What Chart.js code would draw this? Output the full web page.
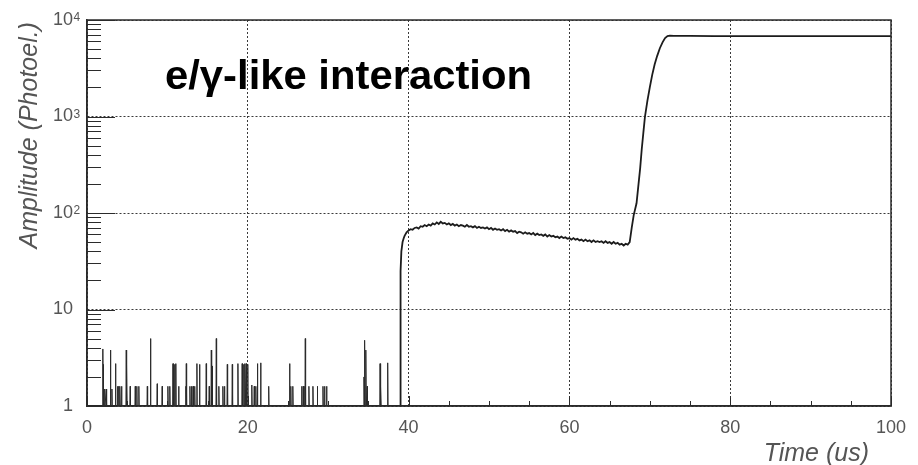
<!DOCTYPE html>
<html>
<head>
<meta charset="utf-8">
<script src="https://cdn.jsdelivr.net/npm/chart.js@4/dist/chart.umd.min.js"></script>
<style>
  html, body { margin: 0; padding: 0; background: #fff; }
  canvas { display: block; }
</style>
</head>
<body>
<canvas id="pulseChart" width="918" height="465"></canvas>
<script>
// noise spikes before the interaction (time in us, height in photoelectrons)
const spikeTimes = [1.97, 2.05, 2.2, 2.4, 2.92, 3.1, 3.55, 3.8, 3.95, 4.1, 4.3, 4.88, 4.95, 5.37, 6.0, 6.2, 6.45,
  7.5, 7.9, 8.73, 9.35, 10.06, 10.3, 10.7, 10.9, 11.05, 11.4, 12.3, 12.35, 12.8, 13.0, 13.2, 13.4, 13.67, 14.0,
  14.83, 15.2, 15.46, 15.55, 16.08, 16.4, 16.9, 17.1, 17.45, 18.07, 18.77, 19.3, 19.5, 19.65, 19.8, 20.0, 20.5,
  20.8, 21.0, 21.2, 21.6, 22.6, 25.2, 25.35, 25.6, 26.7, 26.9, 27.1, 27.15, 27.6, 28.1, 28.65, 29.35, 29.55, 29.8,
  34.45, 34.55, 34.7, 34.85, 36.45, 36.55, 37.4];
const spikeHeights = [3.9, 2.7, 1.5, 1.5, 3.8, 1.5, 2.75, 1.6, 1.6, 1.6, 1.6, 3.8, 2.7, 1.6, 1.6, 1.6, 1.6,
  1.6, 5.0, 1.7, 1.6, 1.6, 1.6, 2.75, 2.7, 2.75, 1.6, 1.6, 2.75, 1.6, 1.6, 1.6, 1.6, 2.75, 2.7,
  2.75, 1.6, 3.8, 2.6, 5.0, 1.6, 1.6, 1.6, 2.7, 2.7, 2.75, 2.75, 2.7, 2.75, 2.75, 2.7, 1.65,
  1.6, 1.6, 2.75, 2.8, 1.6, 2.75, 1.6, 1.6, 1.6, 1.6, 1.6, 5.0, 1.6, 1.6, 1.6, 1.6, 1.6, 1.6,
  2.0, 4.8, 3.8, 1.6, 2.75, 1.6, 2.8];

// leading edge of the pulse
const edgeTimes = [0, 38.95, 39.0, 39.1, 39.25, 39.4];
const edgeValues = [1, 1, 25, 40, 50, 55];

// slow component, sampled every 0.25 us from 39.5 us
const plateauStart = 39.5;
const plateauStep = 0.25;
const plateauValues = [58, 63, 66, 68, 67, 70, 71, 69, 73, 72, 75, 73, 76, 74, 78, 76, 80, 77, 81, 78,
  79, 76, 78, 75, 77, 74, 76, 73, 75, 74, 72, 75, 72, 73, 71, 73, 70, 72, 70, 71,
  69, 71, 68, 70, 67, 69, 67, 68, 66, 68, 65, 67, 64, 66, 64, 65, 62, 64, 63, 61,
  63, 61, 62, 60, 62, 59, 61, 59, 60, 58, 60, 57, 59, 57, 58, 56, 57, 55, 57, 55,
  56, 54, 55, 53, 55, 53, 54, 52, 53, 51, 53, 51, 52, 50, 52, 50, 51, 50, 51, 49,
  51, 49, 50, 48, 50, 48, 49, 47, 48, 46, 48, 47, 50];

// second rise and saturation
const riseTimes = [67.75, 68.0, 68.35, 68.6, 68.8, 69.0, 69.2, 69.4, 69.7, 70.0, 70.3, 70.6, 70.9, 71.25,
  71.6, 71.9, 72.2, 72.5, 73, 75, 78, 80, 85, 90, 95, 100];
const riseValues = [70, 95, 126, 200, 290, 460, 680, 1000, 1450, 2000, 2700, 3450, 4200, 5100,
  5900, 6500, 6800, 6900, 6850, 6850, 6800, 6820, 6800, 6810, 6800, 6800];

const yTickValues = [1, 10, 100, 1000, 10000];
const yTickBases = ['1', '10', '10', '10', '10'];
const yTickExponents = ['', '', '2', '3', '4'];
const yMinorMultipliers = [2, 3, 4, 5, 6, 7, 8, 9];
const xMinorStep = 5;

const FONT = "'Liberation Sans', Arial, Helvetica, sans-serif";
const LABEL_GREY = '#555';

let spikePoints = [];
spikeTimes.forEach(function(t, i) {
  spikePoints.push({x: t - 0.04, y: 1}, {x: t, y: spikeHeights[i]}, {x: t + 0.04, y: 1});
});

let pulsePoints = [];
edgeTimes.forEach(function(t, i) { pulsePoints.push({x: t, y: edgeValues[i]}); });
plateauValues.forEach(function(v, i) { pulsePoints.push({x: plateauStart + i * plateauStep, y: v}); });
riseTimes.forEach(function(t, i) { pulsePoints.push({x: t, y: riseValues[i]}); });

const frame = {
  id: 'frame',
  afterDatasetsDraw(chart) {
    const {ctx, chartArea: a, scales: {x, y}} = chart;
    ctx.save();
    ctx.strokeStyle = '#2b2b2b';
    ctx.lineWidth = 1;
    ctx.beginPath();
    yTickValues.forEach(function(d) {
      yMinorMultipliers.forEach(function(m) {
        const v = d * m;
        if (v >= 10000) return;
        const py = Math.round(y.getPixelForValue(v)) + 0.5;
        ctx.moveTo(a.left, py); ctx.lineTo(a.left + 14, py);
      });
      const py = Math.round(y.getPixelForValue(d)) + 0.5;
      ctx.moveTo(a.left, py); ctx.lineTo(a.left + 28, py);
    });
    for (let t = 0; t <= 100; t += xMinorStep) {
      const px = Math.round(x.getPixelForValue(t)) + 0.5;
      ctx.moveTo(px, a.bottom); ctx.lineTo(px, a.bottom - (t % 20 === 0 ? 10 : 5));
    }
    ctx.stroke();
    ctx.lineWidth = 1.5;
    ctx.strokeRect(a.left, a.top, a.right - a.left, a.bottom - a.top);
    ctx.restore();
  },
  afterDraw(chart) {
    const {ctx, scales: {y}} = chart;
    ctx.save();
    ctx.fillStyle = LABEL_GREY;
    yTickValues.forEach(function(v, i) {
      const py = y.getPixelForValue(v);
      ctx.font = '18px ' + FONT;
      ctx.textAlign = 'right';
      ctx.textBaseline = 'middle';
      ctx.fillText(yTickBases[i], 73, py);
      if (yTickExponents[i]) {
        ctx.font = '12px ' + FONT;
        ctx.textAlign = 'left';
        ctx.textBaseline = 'alphabetic';
        ctx.fillText(yTickExponents[i], 73.5, py + 1);
      }
    });
    // axis titles
    ctx.font = 'italic 25px ' + FONT;
    ctx.textAlign = 'right';
    ctx.textBaseline = 'alphabetic';
    ctx.fillText('Time (us)', 869, 461);
    ctx.save();
    ctx.translate(37, 22);
    ctx.rotate(-Math.PI / 2);
    ctx.fillText('Amplitude (Photoel.)', 0, 0);
    ctx.restore();
    // annotation inside the frame
    ctx.fillStyle = '#000';
    ctx.font = 'bold 40px ' + FONT;
    ctx.textAlign = 'left';
    const label = 'e/\u03b3-like interaction';
    const w = ctx.measureText(label).width;
    ctx.translate(165, 88.5);
    ctx.scale(367 / w, 1);
    ctx.fillText(label, 0, 0);
    ctx.restore();
  }
};

new Chart(document.getElementById('pulseChart').getContext('2d'), {
  type: 'line',
  data: {
    datasets: [
      {
        data: spikePoints,
        borderColor: '#2a2a2a',
        borderWidth: 1,
        pointRadius: 0,
        tension: 0
      },
      {
        data: pulsePoints,
        borderColor: '#1c1c1c',
        borderWidth: 1.8,
        pointRadius: 0,
        tension: 0
      }
    ]
  },
  options: {
    responsive: false,
    animation: false,
    layout: {padding: {top: 20, right: 27, left: 0, bottom: 0}},
    plugins: {legend: {display: false}, tooltip: {enabled: false}},
    scales: {
      x: {
        type: 'linear',
        min: 0,
        max: 100,
        afterFit: function(s) { s.height = 59; },
        ticks: {stepSize: 20, maxRotation: 0, padding: 11, color: LABEL_GREY, font: {size: 18, family: FONT}},
        grid: {color: '#3a3a3a', lineWidth: 1, drawTicks: false},
        border: {color: '#2b2b2b', width: 1.5, dash: [2, 2]}
      },
      y: {
        type: 'logarithmic',
        min: 1,
        max: 10000,
        afterFit: function(s) { s.width = 87; },
        afterBuildTicks: function(s) { s.ticks = yTickValues.map(function(v) { return {value: v}; }); },
        ticks: {display: false},
        grid: {color: '#3a3a3a', lineWidth: 1, drawTicks: false},
        border: {color: '#2b2b2b', width: 1.5, dash: [2, 2]}
      }
    }
  },
  plugins: [frame]
});
</script>
</body>
</html>
